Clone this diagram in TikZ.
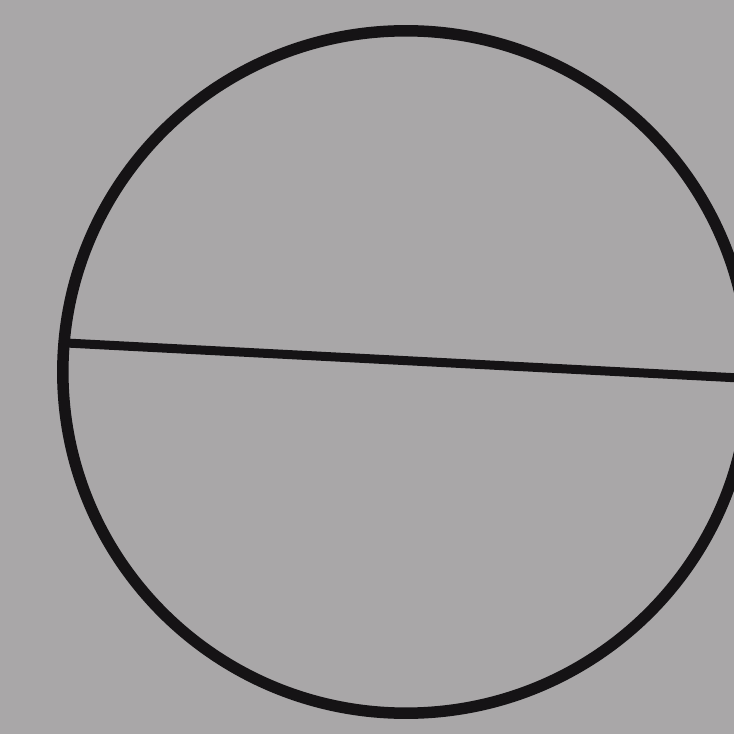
\documentclass[tikz,border=0pt]{standalone}
\definecolor{paper}{HTML}{A9A7A8}
\definecolor{ink}{HTML}{151315}
\begin{document}
\begin{tikzpicture}[x=0.01cm,y=-0.01cm,
  inkline/.style={draw=ink,line width=0.115cm,line cap=round}]
\fill[paper] (0,0) rectangle (734,734);
\useasboundingbox (0,0) rectangle (734,734);
\draw[inkline] (406,372) ellipse [x radius=3.43cm, y radius=3.41cm];
\coordinate (l) at (66,343);
\coordinate (r) at (740,378);
\draw[inkline,line width=0.09cm] (l) -- (r);
\end{tikzpicture}
\end{document}
